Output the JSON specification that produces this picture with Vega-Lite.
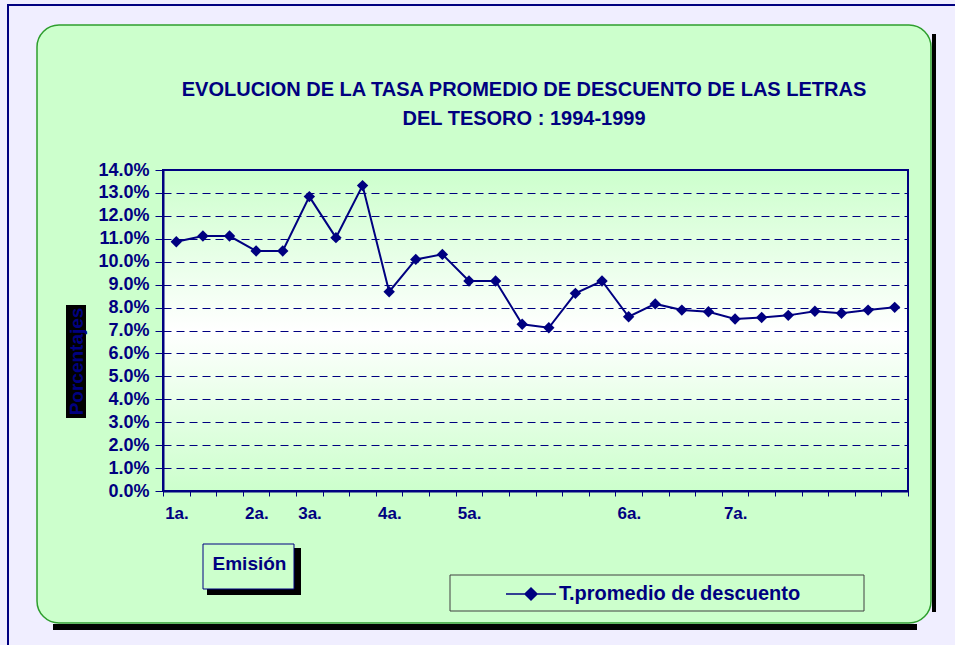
{
  "$schema": "https://vega.github.io/schema/vega-lite/v6.json",
  "width": 894,
  "height": 598,
  "autosize": {"type": "none"},
  "padding": {"left": 37, "top": 25, "right": 24, "bottom": 22},
  "background": "#F0EEFF",
  "config": {
    "font": "Liberation Sans",
    "view": {"fill": "#CCFFCC", "stroke": "#2E9E2E", "strokeWidth": 1.5, "cornerRadius": 22}
  },
  "title": {
    "text": ["EVOLUCION DE LA TASA PROMEDIO DE DESCUENTO DE LAS LETRAS", "DEL TESORO : 1994-1999"],
    "color": "#000080",
    "font": "Liberation Sans",
    "fontSize": 20,
    "fontWeight": "bold",
    "anchor": "middle",
    "frame": "group",
    "baseline": "top",
    "offset": 0,
    "dx": 40,
    "dy": 125,
    "lineHeight": 29
  },
  "data": {
    "values": [
      {"periodo": "1a.", "tasa": 0.1087},
      {"periodo": "1a._2", "tasa": 0.1112},
      {"periodo": "1a._3", "tasa": 0.1112},
      {"periodo": "2a.", "tasa": 0.1047},
      {"periodo": "2a._2", "tasa": 0.1047},
      {"periodo": "3a.", "tasa": 0.1284},
      {"periodo": "3a._2", "tasa": 0.1105},
      {"periodo": "3a._3", "tasa": 0.1332},
      {"periodo": "4a.", "tasa": 0.0869},
      {"periodo": "4a._2", "tasa": 0.1010},
      {"periodo": "4a._3", "tasa": 0.1032},
      {"periodo": "5a.", "tasa": 0.0916},
      {"periodo": "5a._2", "tasa": 0.0916},
      {"periodo": "5a._3", "tasa": 0.0727},
      {"periodo": "5a._4", "tasa": 0.0712},
      {"periodo": "5a._5", "tasa": 0.0862},
      {"periodo": "5a._6", "tasa": 0.0916},
      {"periodo": "6a.", "tasa": 0.0760},
      {"periodo": "6a._2", "tasa": 0.0816},
      {"periodo": "6a._3", "tasa": 0.0789},
      {"periodo": "6a._4", "tasa": 0.0782},
      {"periodo": "7a.", "tasa": 0.0750},
      {"periodo": "7a._2", "tasa": 0.0757},
      {"periodo": "7a._3", "tasa": 0.0766},
      {"periodo": "7a._4", "tasa": 0.0784},
      {"periodo": "7a._5", "tasa": 0.0775},
      {"periodo": "7a._6", "tasa": 0.0789},
      {"periodo": "7a._7", "tasa": 0.0801}
    ]
  },
  "resolve": {
    "scale": {"fill": "independent"},
    "legend": {"fill": "independent"}
  },
  "layer": [
    {
      "data": {"values": [{}]},
      "mark": {
        "type": "rect",
        "fill": {
          "gradient": "linear",
          "x1": 0, "y1": 0, "x2": 0, "y2": 1,
          "stops": [
            {"offset": 0, "color": "#CCFFCC"},
            {"offset": 0.5, "color": "#FFFFFF"},
            {"offset": 1, "color": "#CCFFCC"}
          ]
        },
        "stroke": "#000080",
        "strokeWidth": 2
      },
      "encoding": {
        "x": {"datum": "1a.", "type": "nominal", "bandPosition": 0},
        "x2": {"datum": "7a._7", "bandPosition": 1},
        "y": {"datum": 0, "type": "quantitative"},
        "y2": {"datum": 0.14}
      }
    },
    {
      "mark": {"type": "line", "strokeWidth": 2},
      "encoding": {
        "x": {
          "field": "periodo",
          "type": "nominal",
          "sort": null,
          "scale": {
            "type": "band",
            "domain": ["1a.", "1a._2", "1a._3", "2a.", "2a._2", "3a.", "3a._2", "3a._3", "4a.", "4a._2", "4a._3", "5a.", "5a._2", "5a._3", "5a._4", "5a._5", "5a._6", "6a.", "6a._2", "6a._3", "6a._4", "7a.", "7a._2", "7a._3", "7a._4", "7a._5", "7a._6", "7a._7"],
            "range": [126, 871],
            "paddingInner": 0,
            "paddingOuter": 0
          },
          "axis": {
            "title": "Emisión",
            "zindex": 3,
            "offset": -132,
            "tickBand": "extent",
            "labelExpr": "length(datum.label) > 3 ? '' : datum.label",
            "labelAngle": 0,
            "labelOffset": 12,
            "labelOverlap": false,
            "grid": false,
            "domainColor": "#000080",
            "domainWidth": 2,
            "tickColor": "#000080",
            "tickSize": 5,
            "labelColor": "#000080",
            "labelFont": "Liberation Sans",
            "labelFontSize": 17,
            "labelFontWeight": "bold",
            "labelPadding": 17,
            "titleX": 212,
            "titleY": 72,
            "titleAlign": "center",
            "titleBaseline": "middle",
            "titleFont": "Liberation Sans",
            "titleFontSize": 19,
            "titleFontWeight": "bold",
            "titleColor": "#000080"
          }
        },
        "y": {
          "field": "tasa",
          "type": "quantitative",
          "scale": {"domain": [0, 0.14], "range": [466, 145], "nice": false},
          "axis": {
            "title": "Porcentajes",
            "zindex": 3,
            "format": ".1%",
            "values": [0, 0.01, 0.02, 0.03, 0.04, 0.05, 0.06, 0.07, 0.08, 0.09, 0.1, 0.11, 0.12, 0.13, 0.14],
            "offset": -126,
            "grid": true,
            "gridColor": "#000080",
            "gridDash": [8, 5],
            "gridWidth": 1,
            "domainColor": "#000080",
            "domainWidth": 2,
            "tickColor": "#000080",
            "tickSize": 8,
            "labelColor": "#000080",
            "labelFont": "Liberation Sans",
            "labelFontSize": 18,
            "labelFontWeight": "bold",
            "labelPadding": 6,
            "titleColor": "#000080",
            "titleFont": "Liberation Sans",
            "titleFontSize": 19,
            "titleFontWeight": "bold",
            "titleAngle": -90,
            "titleX": -87,
            "titleY": 336,
            "titleAlign": "center",
            "titleBaseline": "middle"
          }
        },
        "color": {
          "datum": "T.promedio de descuento",
          "type": "nominal",
          "scale": {"range": ["#000080"]},
          "legend": {
            "title": null,
            "orient": "none",
            "legendX": 413,
            "legendY": 550,
            "zindex": 1,
            "padding": 8,
            "symbolType": "M-2.5,0L2.5,0M0,-0.6L0.6,0L0,0.6L-0.6,0Z",
            "symbolSize": 400,
            "symbolStrokeWidth": 1.5,
            "symbolFillColor": "#000080",
            "symbolStrokeColor": "#000080",
            "symbolOffset": 62,
            "labelOffset": 17,
            "labelLimit": 600,
            "labelFont": "Liberation Sans",
            "labelFontSize": 20,
            "labelFontWeight": "bold",
            "labelColor": "#000080"
          }
        }
      }
    },
    {
      "mark": {"type": "point", "shape": "diamond", "filled": true, "size": 130, "opacity": 1},
      "encoding": {
        "x": {"field": "periodo", "type": "nominal", "sort": null},
        "y": {"field": "tasa", "type": "quantitative"},
        "color": {"datum": "T.promedio de descuento", "type": "nominal"}
      }
    },
    {
      "data": {"values": [{}]},
      "mark": {"type": "point", "filled": true, "size": 0, "strokeWidth": 0},
      "encoding": {
        "x": {"datum": "1a.", "type": "nominal"},
        "y": {"datum": 0, "type": "quantitative"},
        "fill": {
          "datum": 1, "type": "quantitative",
          "scale": {"domain": [0, 10], "range": ["#000000", "#000000"]},
          "legend": {
            "title": null, "orient": "none", "direction": "vertical",
            "legendX": 29, "legendY": 280, "padding": 0, "zindex": 0,
            "gradientLength": 113, "gradientThickness": 20, "gradientStrokeWidth": 0, "gradientOpacity": 1,
            "labelExpr": "''", "tickCount": 1
          }
        }
      }
    },
    {
      "data": {"values": [{}]},
      "mark": {"type": "point", "filled": true, "size": 0, "strokeWidth": 0},
      "encoding": {
        "x": {"datum": "1a.", "type": "nominal"},
        "y": {"datum": 0, "type": "quantitative"},
        "fill": {
          "datum": 2, "type": "quantitative",
          "scale": {"domain": [0, 10], "range": ["#000000", "#000000"]},
          "legend": {
            "title": null, "orient": "none", "direction": "horizontal",
            "legendX": 170, "legendY": 523, "padding": 0, "zindex": 0,
            "gradientLength": 94, "gradientThickness": 47, "gradientStrokeWidth": 0, "gradientOpacity": 1,
            "labelExpr": "''", "tickCount": 1
          }
        }
      }
    },
    {
      "data": {"values": [{}]},
      "mark": {"type": "point", "filled": true, "size": 0, "strokeWidth": 0},
      "encoding": {
        "x": {"datum": "1a.", "type": "nominal"},
        "y": {"datum": 0, "type": "quantitative"},
        "fill": {
          "datum": 3, "type": "quantitative",
          "scale": {"domain": [0, 10], "range": ["#CCFFCC", "#CCFFCC"]},
          "legend": {
            "title": null, "orient": "none", "direction": "horizontal",
            "legendX": 166, "legendY": 519, "padding": 0, "zindex": 1,
            "gradientLength": 91, "gradientThickness": 45, "gradientStrokeColor": "#000080", "gradientStrokeWidth": 1, "gradientOpacity": 1,
            "labelExpr": "''", "tickCount": 1
          }
        }
      }
    },
    {
      "data": {"values": [{}]},
      "mark": {"type": "point", "filled": true, "size": 0, "strokeWidth": 0},
      "encoding": {
        "x": {"datum": "1a.", "type": "nominal"},
        "y": {"datum": 0, "type": "quantitative"},
        "fill": {
          "datum": 4, "type": "quantitative",
          "scale": {"domain": [0, 10], "range": ["#CCFFCC", "#CCFFCC"]},
          "legend": {
            "title": null, "orient": "none", "direction": "horizontal",
            "legendX": 413, "legendY": 550, "padding": 0, "zindex": 0,
            "gradientLength": 414, "gradientThickness": 36, "gradientStrokeColor": "#404040", "gradientStrokeWidth": 1, "gradientOpacity": 1,
            "labelExpr": "''", "tickCount": 1
          }
        }
      }
    },
    {
      "data": {"values": [{}]},
      "mark": {"type": "point", "filled": true, "size": 0, "strokeWidth": 0},
      "encoding": {
        "x": {"datum": "1a.", "type": "nominal"},
        "y": {"datum": 0, "type": "quantitative"},
        "fill": {
          "datum": 5, "type": "quantitative",
          "scale": {"domain": [0, 10], "range": ["#000000", "#000000"]},
          "legend": {
            "title": null, "orient": "none", "direction": "vertical",
            "legendX": 895, "legendY": 9, "padding": 0, "zindex": 0,
            "gradientLength": 578, "gradientThickness": 4, "gradientStrokeWidth": 0, "gradientOpacity": 1,
            "labelExpr": "''", "tickCount": 1
          }
        }
      }
    },
    {
      "data": {"values": [{}]},
      "mark": {"type": "point", "filled": true, "size": 0, "strokeWidth": 0},
      "encoding": {
        "x": {"datum": "1a.", "type": "nominal"},
        "y": {"datum": 0, "type": "quantitative"},
        "fill": {
          "datum": 6, "type": "quantitative",
          "scale": {"domain": [0, 10], "range": ["#000000", "#000000"]},
          "legend": {
            "title": null, "orient": "none", "direction": "horizontal",
            "legendX": 16, "legendY": 599, "padding": 0, "zindex": 0,
            "gradientLength": 864, "gradientThickness": 6, "gradientStrokeWidth": 0, "gradientOpacity": 1,
            "labelExpr": "''", "tickCount": 1
          }
        }
      }
    },
    {
      "data": {"values": [{}]},
      "mark": {"type": "point", "filled": true, "size": 0, "strokeWidth": 0},
      "encoding": {
        "x": {"datum": "1a.", "type": "nominal"},
        "y": {"datum": 0, "type": "quantitative"},
        "fill": {
          "datum": 7, "type": "quantitative",
          "scale": {"domain": [0, 10], "range": ["#000080", "#000080"]},
          "legend": {
            "title": null, "orient": "none", "direction": "vertical",
            "legendX": -30, "legendY": -21, "padding": 0, "zindex": 0,
            "gradientLength": 641, "gradientThickness": 2, "gradientStrokeWidth": 0, "gradientOpacity": 1,
            "labelExpr": "''", "tickCount": 1
          }
        }
      }
    },
    {
      "data": {"values": [{}]},
      "mark": {"type": "point", "filled": true, "size": 0, "strokeWidth": 0},
      "encoding": {
        "x": {"datum": "1a.", "type": "nominal"},
        "y": {"datum": 0, "type": "quantitative"},
        "fill": {
          "datum": 8, "type": "quantitative",
          "scale": {"domain": [0, 10], "range": ["#000080", "#000080"]},
          "legend": {
            "title": null, "orient": "none", "direction": "horizontal",
            "legendX": -30, "legendY": -21, "padding": 0, "zindex": 0,
            "gradientLength": 948, "gradientThickness": 2, "gradientStrokeWidth": 0, "gradientOpacity": 1,
            "labelExpr": "''", "tickCount": 1
          }
        }
      }
    }
  ]
}
